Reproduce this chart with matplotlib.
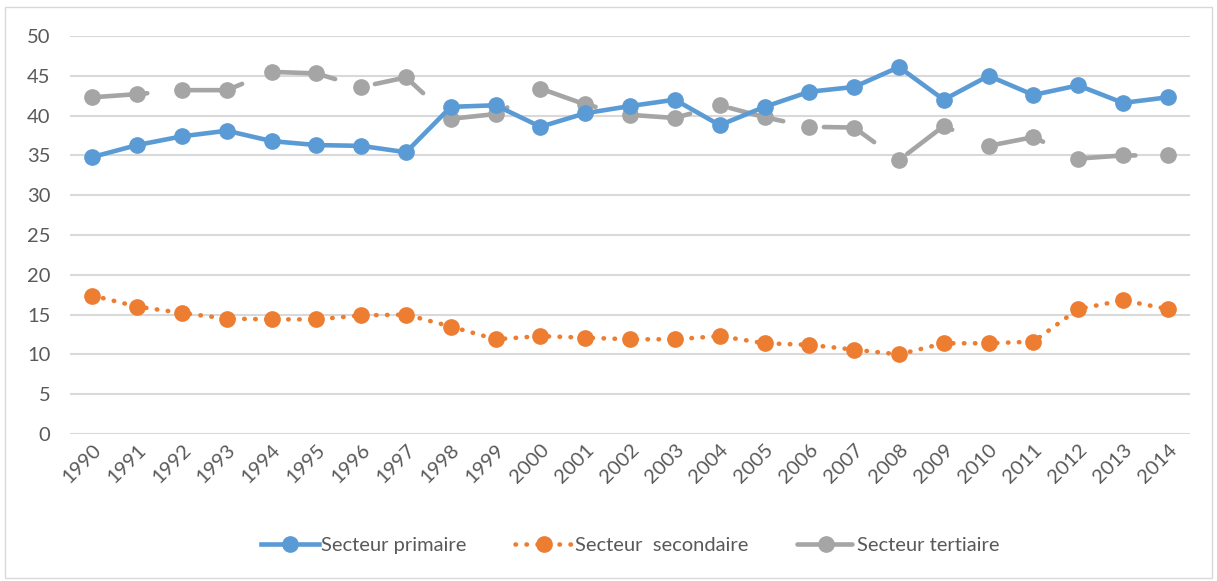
import numpy as np
import matplotlib.pyplot as plt
from matplotlib.patches import Rectangle

years = [str(y) for y in range(1990, 2015)]
primaire = [34.8, 36.3, 37.4, 38.1, 36.8, 36.3, 36.2, 35.4, 41.1, 41.3, 38.6, 40.3, 41.2,
            42.0, 38.8, 41.1, 43.0, 43.6, 46.1, 42.0, 45.0, 42.6, 43.8, 41.6, 42.3]
secondaire = [17.4, 16.0, 15.2, 14.5, 14.4, 14.4, 14.9, 15.0, 13.5, 11.9, 12.3, 12.1, 11.9,
              11.9, 12.3, 11.4, 11.2, 10.6, 10.0, 11.4, 11.4, 11.6, 15.7, 16.8, 15.7]
tertiaire = [42.3, 42.7, 43.2, 43.2, 45.5, 45.3, 43.6, 44.8, 39.6, 40.2, 43.4, 41.4, 40.1,
             39.7, 41.3, 39.8, 38.6, 38.5, 34.4, 38.7, 36.2, 37.3, 34.6, 35.0, 35.0]

plt.rcParams['font.family'] = ['Lato', 'DejaVu Sans']
txt = '#595959'

fig = plt.figure(figsize=(12.17, 5.81), dpi=100)
ax = fig.add_axes([0.0575, 0.253, 0.9205, 0.685])

x = np.arange(len(years))
ax.plot(x, primaire, color='#5B9BD5', lw=3.3, marker='o', ms=11,
        solid_joinstyle='round', label='Secteur primaire', zorder=3)
ax.plot(x, secondaire, color='#ED7D31', lw=3.3, marker='o', ms=11,
        linestyle=(0, (0.1, 2.3)), dash_capstyle='round',
        label='Secteur  secondaire', zorder=3)
ax.plot(x, tertiaire, color='#A5A5A5', lw=3.3, marker='o', ms=11,
        linestyle=(0, (12, 9)), dash_capstyle='round',
        label='Secteur tertiaire', zorder=2)

ax.set_xlim(-0.5, len(years) - 0.5)
ax.set_ylim(0, 50)
ax.set_yticks(range(0, 51, 5))
ax.set_xticks(x)
ax.set_xticklabels(years, rotation=45, ha='right', rotation_mode='anchor')
ax.grid(True, axis='y', color='#D9D9D9', linewidth=1.5)
ax.set_axisbelow(True)
for s in ax.spines.values():
    s.set_visible(False)
ax.tick_params(axis='both', which='both', length=0, labelsize=14.5, colors=txt)
ax.tick_params(axis='y', pad=14)
ax.tick_params(axis='x', pad=5)

leg = ax.legend(loc='center', bbox_to_anchor=(0.5, -0.279), ncol=3, frameon=False,
                fontsize=14.5, handlelength=2.9, columnspacing=2.4, handletextpad=0.1)
for t in leg.get_texts():
    t.set_color(txt)

fig.patches.append(Rectangle((0.004, 0.006), 0.992, 0.982, transform=fig.transFigure,
                             fill=False, edgecolor='#D9D9D9', linewidth=1))

fig.savefig('out.png', dpi=100)
